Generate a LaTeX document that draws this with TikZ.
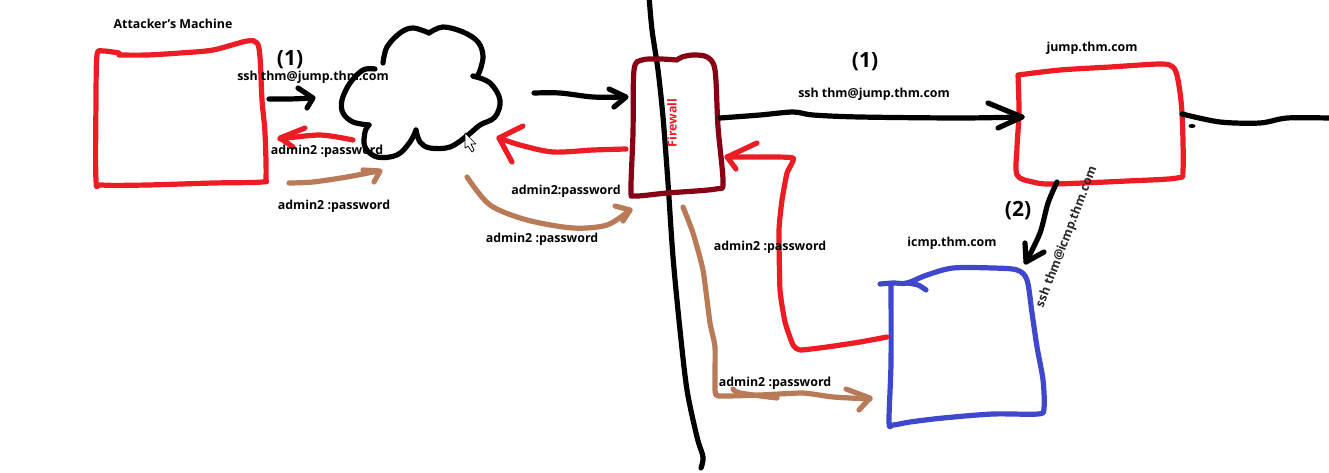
\documentclass[tikz,border=0pt]{standalone}
\usepackage{fontspec}
\setmainfont{Open Sans}
\definecolor{penred}{RGB}{237, 28, 36}
\definecolor{penbrown}{RGB}{185, 122, 87}
\definecolor{penblue}{RGB}{63, 72, 204}
\definecolor{penmaroon}{RGB}{136, 0, 21}
\definecolor{inkgray}{RGB}{40, 40, 40}
\tikzset{
  pen/.style={line width=5.2pt, line cap=round, line join=round},
  lbl/.style={font=\fontsize{12.4}{14}\selectfont\bfseries, inner sep=0pt},
  numlbl/.style={font=\fontsize{21}{24}\selectfont\bfseries, inner sep=0pt},
}
\begin{document}
\begin{tikzpicture}[x=1pt, y=-1pt]
  \useasboundingbox (0, 0) rectangle (1329, 472);

  % Border line
  \draw[pen] plot[smooth, tension=0.5] coordinates {(649,-4) (652,30) (658,70) (663,117) (668,183) (673,257) (680,330) (687,390) (697,437) (703,457) (701,468)};

  % Attacker's machine
  \draw[pen, penred] plot[smooth, tension=0.5] coordinates {(119,55) (147,55) (180,53) (213,50) (247,41) (257,43) (260,57) (262,100) (265,133) (266,177) (262,182) (213,183) (147,185) (102,185) (96,180) (96,100) (97,55) (103,51) (119,53)};

  % Cloud
  \draw[pen] plot[smooth, tension=0.6] coordinates {(383,63) (387,47) (400,33) (413,28) (429,33)};
  \draw[pen] plot[smooth, tension=0.6] coordinates {(429,33) (443,27) (463,32) (478,42) (483,57) (478,75) (473,76)};
  \draw[pen] plot[smooth, tension=0.6] coordinates {(473,76) (490,83) (500,100) (495,117) (480,125) (468,135) (450,147) (430,148) (420,142) (416,130)};
  \draw[pen] plot[smooth, tension=0.6] coordinates {(416,130) (410,142) (397,155) (377,157) (365,147) (365,132) (369,125)};
  \draw[pen] plot[smooth, tension=0.6] coordinates {(369,125) (353,122) (343,113) (342,100) (350,83) (363,70) (375,69)};

  % Mouse pointer
  \draw[fill=white, line width=0.7pt, line join=round] (465,133) -- (465,148) -- (468,146) -- (472,152) -- (474,150) -- (471,144) -- (476,144) -- cycle;

  % Firewall
  \draw[pen, penmaroon] plot[smooth, tension=0.5] coordinates {(677,60) (660,59) (642,60) (634,70) (633,133) (631,190) (635,196) (667,193) (716,189) (723,182) (718,127) (715,70) (707,57) (693,55) (682,57) (677,60)};

  % jump.thm.com
  \draw[pen, penred] plot[smooth, tension=0.5] coordinates {(1018,75) (1060,70) (1110,67) (1160,64) (1173,67) (1178,80) (1182,113) (1183,170) (1177,178) (1127,181) (1053,184) (1033,182) (1017,175) (1017,147) (1019,113) (1018,75)};
  \draw[pen] plot[smooth, tension=0.5] coordinates {(1182,114) (1220,122) (1260,123) (1287,118) (1329,118)};
  \fill (1192,126) ellipse (3.5 and 2);

  % icmp.thm.com
  \draw[pen, penblue] plot[smooth, tension=0.5] coordinates {(880,284) (893,283) (907,283) (927,275) (953,268) (993,268) (1017,270) (1027,280) (1032,313) (1037,347) (1043,380) (1044,408) (1038,414) (993,414) (943,418) (910,422) (893,425) (889,422) (891,363) (891,285)};
  \draw[pen, penblue] plot[smooth, tension=0.5] coordinates {(907,283) (918,285) (926,290)};

  % Request, outside
  \draw[pen] plot[smooth, tension=0.5] coordinates {(269,99) (290,99) (312,98)};
  \draw[pen] (298,88) -- (313,98) -- (307,108);
  \draw[pen] plot[smooth, tension=0.5] coordinates {(534,93) (560,93) (593,97) (625,97)};
  \draw[pen] (609,89) -- (626,97) -- (614,107);

  % Request, inside
  \draw[pen] plot[smooth, tension=0.5] coordinates {(720,118) (760,115) (793,112) (813,115) (860,117) (960,118) (1022,117)};
  \draw[pen] (988,103) -- (1022,117) -- (998,128);
  \draw[pen] plot[smooth, tension=0.5] coordinates {(1057,182) (1048,203) (1040,233) (1026,262)};
  \draw[pen] (1025,243) -- (1026,262) -- (1044,252);

  % Red replies
  \draw[pen, penred] plot[smooth, tension=0.5] coordinates {(353,140) (320,135) (280,139)};
  \draw[pen, penred] (305,128) -- (280,138) -- (293,147);
  \draw[pen, penred] plot[smooth, tension=0.5] coordinates {(626,149) (593,150) (553,152) (520,145) (499,138)};
  \draw[pen, penred] (523,126) -- (499,138) -- (512,162);
  \draw[pen, penred] plot[smooth, tension=0.3] coordinates {(887,337) (860,342) (827,347) (800,350) (793,345) (785,322) (780,290) (779,230) (782,200) (787,173) (793,158) (760,157) (727,157)};
  \draw[pen, penred] (757,143) -- (727,157) -- (736,169);

  % Brown replies
  \draw[pen, penbrown] plot[smooth, tension=0.5] coordinates {(289,183) (313,182) (347,177) (378,171)};
  \draw[pen, penbrown] (363,170) -- (380,171) -- (374,182);
  \draw[pen, penbrown] plot[smooth, tension=0.5] coordinates {(467,177) (490,205) (527,220) (573,228) (607,225) (630,210)};
  \draw[pen, penbrown] (615,206) -- (630,210) -- (623,221);
  \draw[pen, penbrown] plot[smooth, tension=0.3] coordinates {(683,207) (693,233) (703,270) (710,323) (715,347) (715,390) (719,396) (760,395) (803,393) (833,397) (870,399)};
  \draw[pen, penbrown] (846,389) -- (870,398) -- (859,410);
  \draw[pen, penbrown] plot[smooth, tension=0.5] coordinates {(733,389) (740,393) (777,398)};

  % Labels
  \node[lbl] (machinelbl) at (173, 24) {Attacker's Machine};
  \node[numlbl] (numa) at (290, 60) {(1)};
  \node[lbl] (ssha) at (313, 77) {ssh thm@jump.thm.com};
  \node[lbl] (passa) at (327, 151) {admin2 :password};
  \node[lbl] (passb) at (334, 206) {admin2 :password};
  \node[lbl] (passc) at (566, 191) {admin2:password};
  \node[lbl] (passd) at (542, 239) {admin2 :password};
  \node[lbl, text=penred, rotate=90] (fwlbl) at (672, 123) {Firewall};
  \node[numlbl] (numb) at (865, 62) {(1)};
  \node[lbl] (sshb) at (874, 94) {ssh thm@jump.thm.com};
  \node[lbl] (jumplbl) at (1092, 48) {jump.thm.com};
  \node[numlbl] (numc) at (1018, 211) {(2)};
  \node[lbl, text=inkgray, rotate=69] (sshc) at (1067, 237) {ssh thm@icmp.thm.com};
  \node[lbl] (icmplbl) at (952, 243) {icmp.thm.com};
  \node[lbl] (passe) at (770, 247) {admin2 :password};
  \node[lbl] (passf) at (775, 383) {admin2 :password};
\end{tikzpicture}
\end{document}
